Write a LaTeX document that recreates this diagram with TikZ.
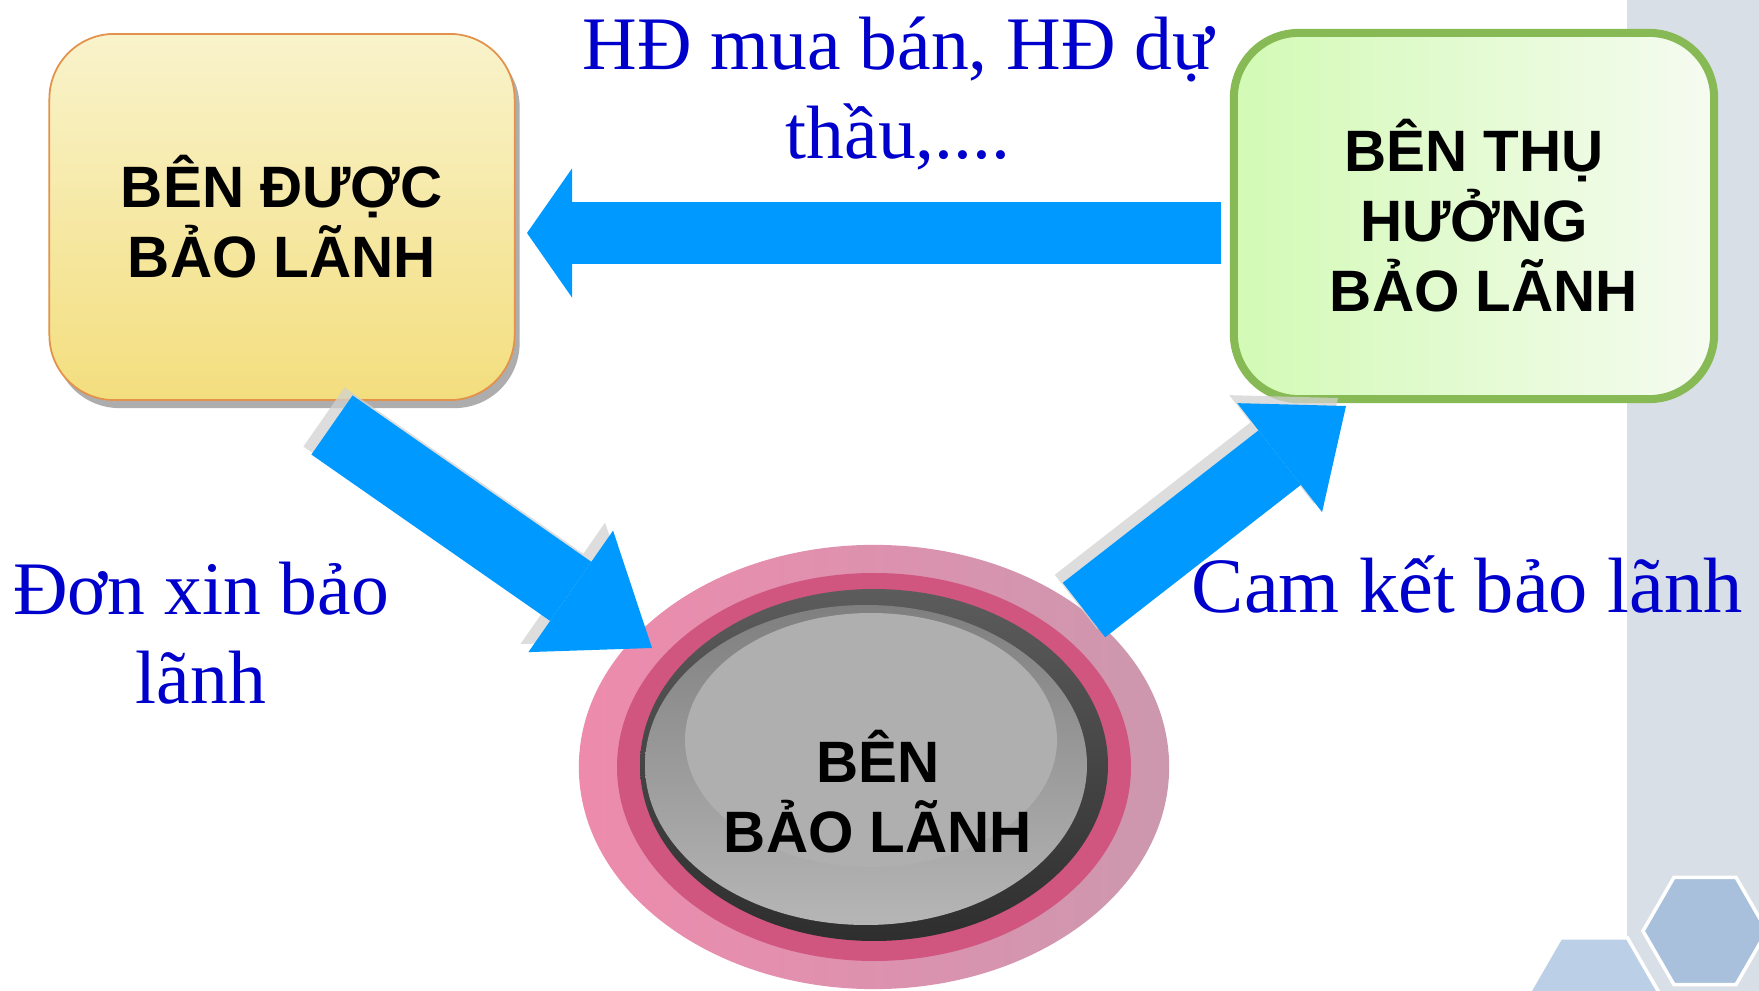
\documentclass[tikz,border=0pt]{standalone}
\usepackage{fontspec}
\setmainfont{Liberation Serif}
\setsansfont{Liberation Sans}
\usetikzlibrary{arrows.meta,shadows,shapes.geometric}

\definecolor{nenxam}{HTML}{D9DFE6}
\definecolor{lucgiacdam}{HTML}{A8C0DC}
\definecolor{lucgiacnhat}{HTML}{BBCFE7}
\definecolor{vangtren}{HTML}{F9F3CC}
\definecolor{vangduoi}{HTML}{F3DE7E}
\definecolor{vienvang}{HTML}{E2924A}
\definecolor{xanhtrai}{HTML}{D2FAB5}
\definecolor{xanhphai}{HTML}{F6FBF1}
\definecolor{vienxanh}{HTML}{87BA55}
\definecolor{hongnhat}{HTML}{EE8BAD}
\definecolor{hongxam}{HTML}{CC98AE}
\definecolor{hongdam}{HTML}{D0557F}
\definecolor{xamdam1}{HTML}{5C5C5C}
\definecolor{xamdam2}{HTML}{2E2E2E}
\definecolor{xamvua1}{HTML}{7F7F7F}
\definecolor{xamvua2}{HTML}{B6B6B6}
\definecolor{xamsang}{HTML}{AFAFAF}
\definecolor{muiten}{HTML}{0099FF}
\definecolor{chuxanh}{HTML}{0000CC}

\begin{document}
\begin{tikzpicture}[x=0.01cm,y=-0.01cm,
    chuhop/.style={align=center, inner sep=0pt, font=\sffamily\bfseries\fontsize{16.6}{19.9}\selectfont},
    party/.style={chuhop, rounded corners=0.65cm, minimum width=4.65cm, minimum height=3.66cm},
    flowtext/.style={text=chuxanh, inner sep=0pt, align=center, font=\fontsize{21.5}{25.3}\selectfont},
    bigarrow/.style n args={3}{line width=#1, line cap=butt, -{Triangle[width=#2,length=#3,line width=0pt]}},
    arrowshade/.style={draw=black!18, opacity=0.75},
    hexa/.style={draw=white, line width=1pt}]

  \useasboundingbox (0,0) rectangle (1759,991);
  % background strip and hexagons
  \fill[nenxam] (1627,0) rectangle (1759,991);
  \path[hexa, fill=lucgiacnhat] (1594,996) +(0:67) -- +(60:67) -- +(120:67) -- +(180:67) -- +(240:67) -- +(300:67) -- cycle;
  \path[hexa, fill=lucgiacdam] (1705,931) +(0:62) -- +(60:62) -- +(120:62) -- +(180:62) -- +(240:62) -- +(300:62) -- cycle;

  % ben bao lanh
  \node[ellipse, minimum width=5.9cm, minimum height=4.44cm, inner sep=0pt, left color=hongnhat, right color=hongxam] (vong) at (874,767) {};
  \fill[hongdam] (vong.center) ellipse [x radius=257, y radius=194];
  \shade[top color=xamdam1, bottom color=xamdam2] ([shift={(0,-2)}]vong.center) ellipse [x radius=234, y radius=176];
  \shade[top color=xamvua1, bottom color=xamvua2] ([shift={(-8,-2)}]vong.center) ellipse [x radius=221, y radius=160];
  \fill[xamsang] ([shift={(-3,-27)}]vong.center) ellipse [x radius=186, y radius=127];
  \node[chuhop] (baolanh) at (878,792) {BÊN\\BẢO LÃNH};

  % the two boxes
  \node[party, draw=vienvang, line width=0.5pt, top color=vangtren, bottom color=vangduoi,
        drop shadow={shadow xshift=0.05cm, shadow yshift=-0.08cm, fill=black!32, opacity=1}] (duoc) at (282,217) {BÊN ĐƯỢC\\BẢO LÃNH};
  \node[party, draw=vienxanh, line width=0.08cm, minimum width=4.8cm, left color=xanhtrai, right color=xanhphai] (thuhuong) at (1474,216) {BÊN THỤ\\HƯỞNG\\\hspace*{0.2cm}BẢO LÃNH};

  % arrows
  \coordinate (hdtail) at (1221,233);
  \coordinate (hdtip) at (527,233);
  \coordinate (dontail) at (332,425);
  \coordinate (dontip) at (652,648);
  \coordinate (camtail) at (1084,610);
  \coordinate (camtip) at (1346,406);
  \draw[bigarrow={0.62cm}{1.29cm}{0.45cm}, draw=muiten] (hdtail) -- (hdtip);
  \draw[bigarrow={0.72cm}{1.48cm}{0.99cm}, arrowshade] ([shift={(-8,-8)}]dontail) -- ([shift={(-8,-8)}]dontip);
  \draw[bigarrow={0.72cm}{1.48cm}{0.99cm}, draw=muiten] (dontail) -- (dontip);
  \draw[bigarrow={0.69cm}{1.38cm}{0.84cm}, arrowshade] ([shift={(-8,-8)}]camtail) -- ([shift={(-8,-8)}]camtip);
  \draw[bigarrow={0.69cm}{1.38cm}{0.84cm}, draw=muiten] (camtail) -- (camtip);

  % labels
  \node[flowtext] (hopdong) at (898,94) {HĐ mua bán, HĐ dự\\thầu,....};
  \node[flowtext] (donxin) at (201,633) {Đơn xin bảo\\lãnh};
  \node[flowtext, anchor=base west, font=\fontsize{22.3}{26}\selectfont] (camket) at (1191,613) {Cam kết bảo lãnh};
\end{tikzpicture}
\end{document}
